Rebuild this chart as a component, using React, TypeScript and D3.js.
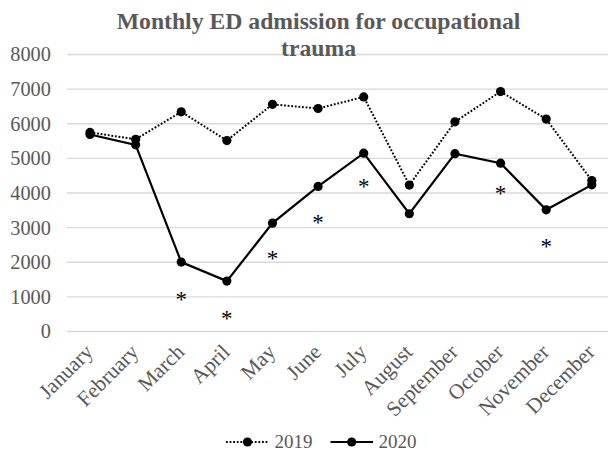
import React from "react";
import * as d3 from "d3";

const months = ["January","February","March","April","May","June","July","August","September","October","November","December"];
const values2019 = [5750, 5550, 6345, 5515, 6560, 6440, 6775, 4230, 6055, 6930, 6135, 4360];
const values2020 = [5690, 5390, 2005, 1455, 3130, 4190, 5150, 3400, 5135, 4860, 3515, 4235];
// positions (in data units) of the significance asterisks; null = none
const sigValues: (number | null)[] = [null, null, 1090, 550, 2290, 3315, 4350, null, null, 4155, 2625, null];
const yTicks = [0, 1000, 2000, 3000, 4000, 5000, 6000, 7000, 8000];
const seriesNames = ["2019", "2020"];
const titleLines = ["Monthly ED admission for occupational", "trauma"];

const W = 608, H = 453;
const FONT = "'Liberation Serif', 'Times New Roman', serif";
const GRAY = "#595959";

export default function App() {
  const x = d3.scaleBand<string>().domain(months).range([67.2, 614.6]);
  const cx = (m: string) => (x(m) as number) + x.bandwidth() / 2;
  const y = d3.scaleLinear().domain([0, 8000]).range([331.5, 54.5]);

  const line = d3.line<number>().x((_, i) => cx(months[i])).y((v) => y(v));
  const LY = 442;

  return (
    <svg width={W} height={H} style={{ position: "absolute", left: 0, top: 0, background: "#fff" }} fontFamily={FONT}>
      <rect width={W} height={H} fill="#fff" />
      {/* gridlines */}
      {yTicks.map((t) => (
        <line key={t} x1={67} x2={W} y1={y(t)} y2={y(t)} stroke="#d9d9d9" strokeWidth={1.3} />
      ))}
      {/* y tick labels */}
      {yTicks.map((t) => (
        <text key={"yt" + t} x={50.8} y={y(t)} dy="0.34em" textAnchor="end" fontSize={20.3} fill={GRAY}>
          {t}
        </text>
      ))}
      {/* title */}
      {titleLines.map((l, i) => (
        <text key={l} x={318.5} y={28.5 + i * 27.5} textAnchor="middle" fontSize={23.7} fontWeight="bold" fill={GRAY}>
          {l}
        </text>
      ))}
      {/* x labels */}
      {months.map((m) => (
        <text
          key={m}
          transform={`translate(${cx(m) - 1},${348}) rotate(-45)`}
          textAnchor="end"
          dy="0.35em"
          fontSize={21.3}
          fill={GRAY}
        >
          {m}
        </text>
      ))}
      {/* 2019 dotted */}
      <path d={line(values2019) || ""} fill="none" stroke="#000" strokeWidth={2} strokeDasharray="1.8 1.8" />
      {values2019.map((v, i) => (
        <circle key={"a" + i} cx={cx(months[i])} cy={y(v)} r={4.6} fill="#000" />
      ))}
      {/* 2020 solid */}
      <path d={line(values2020) || ""} fill="none" stroke="#000" strokeWidth={2.2} />
      {values2020.map((v, i) => (
        <circle key={"b" + i} cx={cx(months[i])} cy={y(v)} r={4.6} fill="#000" />
      ))}
      {/* asterisks */}
      {sigValues.map((v, i) =>
        v == null ? null : (
          <text key={"s" + i} x={cx(months[i])} y={y(v)} dy="0.58em" textAnchor="middle" fontSize={23} fill="#000">
            *
          </text>
        )
      )}
      {/* legend */}
      <g>
        <line x1={226} x2={268} y1={LY} y2={LY} stroke="#000" strokeWidth={2} strokeDasharray="1.8 1.8" />
        <circle cx={247.5} cy={LY} r={4.6} fill="#000" />
        <text x={274.5} y={LY} dy="0.34em" fontSize={19} fill={GRAY}>{seriesNames[0]}</text>
        <line x1={330.5} x2={373} y1={LY} y2={LY} stroke="#000" strokeWidth={2.2} />
        <circle cx={351.7} cy={LY} r={4.6} fill="#000" />
        <text x={378.5} y={LY} dy="0.34em" fontSize={19} fill={GRAY}>{seriesNames[1]}</text>
      </g>
    </svg>
  );
}
